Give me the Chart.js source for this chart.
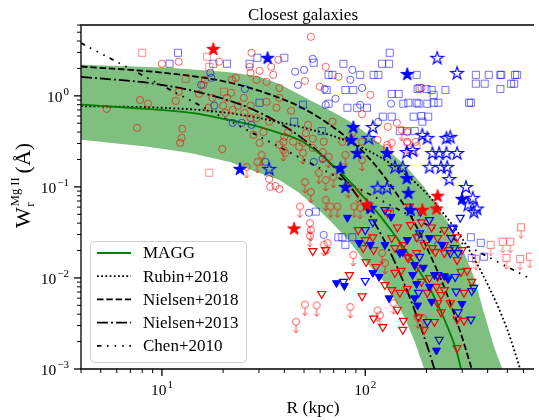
<!DOCTYPE html>
<html><head><meta charset="utf-8">
<script src="https://cdn.jsdelivr.net/npm/chart.js@4.4.1/dist/chart.umd.min.js"></script>
<style>html,body{margin:0;padding:0;background:#fff}canvas{display:block}</style>
</head><body>
<canvas id="c" width="539" height="420"></canvas>
<script>
// ---------- axis ticks ----------
const xMajorTicks = [10, 100];
const xTickLabels = [['10', '1'], ['10', '2']];
const xMinorTicks = [4, 5, 6, 7, 8, 9, 20, 30, 40, 50, 60, 70, 80, 90, 200, 300, 400, 500, 600];
const yMajorTicks = [0.001, 0.01, 0.1, 1];
const yTickLabels = [['10', '\u22123'], ['10', '\u22122'], ['10', '\u22121'], ['10', '0']];
const yMinorTicks = [0.002, 0.003, 0.004, 0.005, 0.006, 0.007, 0.008, 0.009,
  0.02, 0.03, 0.04, 0.05, 0.06, 0.07, 0.08, 0.09,
  0.2, 0.3, 0.4, 0.5, 0.6, 0.7, 0.8, 0.9, 2, 3, 4, 5, 6];
const legendLabels = ['MAGG', 'Rubin+2018', 'Nielsen+2018', 'Nielsen+2013', 'Chen+2010'];

// ---------- model curves (R in kpc, W in Angstrom) ----------
const maggR = [4, 6.9, 14, 21.2, 28.6, 37.8, 47.2, 59.1, 69, 82.7, 96.7, 112, 136, 156, 175, 207, 245, 283, 296];
const maggW = [0.80, 0.74, 0.65, 0.545, 0.47, 0.39, 0.329, 0.236, 0.175, 0.119, 0.080, 0.056, 0.032, 0.021, 0.0142, 0.0078, 0.0035, 0.0015, 0.001];
const maggUpR = [4, 10.8, 20.9, 29.5, 37.8, 55.4, 73.9, 89.3, 108, 125, 156, 195, 251, 296, 342, 383, 428, 472];
const maggUpW = [2.19, 2.03, 1.83, 1.65, 1.35, 0.86, 0.618, 0.48, 0.346, 0.27, 0.175, 0.100, 0.043, 0.023, 0.0103, 0.0042, 0.0018, 0.001];
const maggLoR = [4, 8.55, 13.8, 21.6, 29.2, 37.8, 47.2, 57.1, 69.0, 82.7, 96.7, 125, 156, 175, 195];
const maggLoW = [0.329, 0.276, 0.236, 0.188, 0.146, 0.119, 0.086, 0.060, 0.040, 0.026, 0.0166, 0.0088, 0.0037, 0.0020, 0.001];
const rubinR = [4, 10, 20, 40, 70, 100, 150, 200, 250, 300, 400, 500, 578];
const rubinW = [0.77, 0.74, 0.66, 0.50, 0.36, 0.26, 0.15, 0.085, 0.047, 0.027, 0.0085, 0.0027, 0.001];
const nielsen18R = [4, 10, 20, 30, 50, 75, 100, 125, 150, 175, 200, 250, 300, 334];
const nielsen18W = [2.1, 1.8, 1.45, 1.14, 0.72, 0.40, 0.23, 0.127, 0.071, 0.040, 0.022, 0.0070, 0.0022, 0.001];
const nielsen13R = [4, 10, 20, 30, 50, 75, 100, 125, 150, 175, 200, 219];
const nielsen13W = [1.62, 1.32, 0.93, 0.66, 0.33, 0.14, 0.059, 0.025, 0.0105, 0.0044, 0.0019, 0.001];
const chenR = [4, 10, 30, 100, 300, 660];
const chenW = [3.8, 1.3, 0.36, 0.088, 0.024, 0.0096];

// ---------- galaxies [R (kpc), W (A)] ----------
const redCircles = [[10,2.25],[12.1,2.37],[19.1,2.37],[27.6,2.97],[27.0,2.08],[27.3,1.79],[22.1,1.50],[23.1,1.58],[16.3,1.50],[16.0,1.32],[12.1,1.11],[15.2,1.05],[17.7,0.95],[21.9,1.08],[20.9,0.95],[25.3,0.95],[7.8,0.90],[8.55,0.82],[11.7,0.88],[20.0,0.78],[23.7,0.78],[27.3,0.78],[22.3,0.70],[20.5,0.65],[25.5,0.65],[27.3,0.57],[5.35,0.72],[7.55,0.445],[12.6,0.434],[12.5,0.346],[12.3,0.305],[16.9,0.74],[28.2,0.373],[19.8,0.26],[54.0,4.45],[30.2,1.88],[37.4,2.49],[63.9,2.08],[73.8,1.62],[50.5,1.46],[59.7,1.26],[106,1.025],[96.5,0.63],[129,0.456],[143,0.505],[161,0.40],[34.5,2.08],[35.3,1.70],[29.2,1.50],[32.7,1.43],[37.8,1.22],[32.7,0.86],[37.8,0.95],[36.6,0.74],[43.2,0.685],[29.2,0.57],[33.7,0.52],[41.8,0.40],[52.3,0.48],[69.0,0.52],[189,1.22],[161,0.313],[177,0.313],[33.7,0.122],[34.1,0.100],[36.2,0.1025],[37.8,0.095],[30.2,0.305],[31.6,0.40],[40.0,0.355],[44.2,0.313],[49.4,0.305],[55.2,0.268],[51.1,0.39],[37.8,0.29],[47.3,0.276],[55.2,0.337],[62.5,0.313],[77.2,0.313],[40.4,0.236],[86.4,0.39],[96.5,0.313],[39.6,0.313],[115,0.329],[128,0.268]];
const redLimitCircles = [[26.1,0.166],[29.5,0.188],[30.9,0.225],[39.6,0.255],[49.4,0.236],[61.8,0.242],[66.0,0.214],[79.9,0.225],[96.5,0.198],[128,0.29],[135,0.305],[151,0.423],[161,0.305],[179,0.283],[59.1,0.143],[63.9,0.119],[69.8,0.129],[82.6,0.100],[50.5,0.113],[54.0,0.088],[92.3,0.088],[47.8,0.061],[63.9,0.072],[67.5,0.061],[73.0,0.061],[88.3,0.061],[94.4,0.059],[53.4,0.040],[54.0,0.0337],[53.4,0.029],[62.5,0.0231],[65.3,0.0243],[87.3,0.0179],[121,0.0188],[125,0.0146],[50.5,0.0051],[57.7,0.0050],[84.5,0.0048],[45.7,0.0033],[115,0.0044],[118,0.0039],[138,0.0053],[181,0.0037],[193,0.0036]];
const redTriangles = [[55.2,0.0198],[63.9,0.0203],[83.6,0.0108],[61.1,0.0067],[96.5,0.0063],[110,0.0036],[122,0.0029],[153,0.0027],[154,0.0034],[113,0.0132],[101,0.015],[125,0.0084],[135,0.0074],[148,0.0069],[144,0.0045],[161,0.0076],[140,0.0114],[163,0.0166],[179,0.013],[189,0.0091],[202,0.0069],[224,0.0080],[236,0.0065],[245,0.0074],[227,0.0053],[236,0.0042],[219,0.0033],[195,0.0027],[183,0.0037],[207,0.0100],[227,0.0103],[253,0.0100],[296,0.0117],[317,0.012],[334,0.0091],[306,0.0069],[283,0.0035],[306,0.0034],[283,0.0017],[262,0.0053],[259,0.0203],[299,0.0203],[283,0.0158],[221,0.0193],[179,0.0188],[161,0.0171],[150,0.012],[245,0.0188],[92.3,0.0337],[100,0.0262],[97.7,0.0214],[110,0.0203],[109,0.028],[129,0.052],[135,0.0275],[140,0.0214],[144,0.036],[153,0.0231],[167,0.0382],[179,0.028],[189,0.041],[195,0.0231],[212,0.036],[214,0.0214],[227,0.0275],[245,0.0337],[245,0.0231],[283,0.028],[165,0.061]];
const blueFilledTriangles = [[72.2,0.0088],[79.0,0.0082],[109,0.0114],[117,0.0103],[131,0.0060],[175,0.0139],[193,0.013],[171,0.0108],[179,0.0086],[175,0.0060],[181,0.0050],[212,0.0055],[207,0.0080],[219,0.0108],[245,0.0105],[256,0.0098],[299,0.0052],[224,0.0016],[153,0.0193],[81.7,0.046],[134,0.047],[161,0.0262],[207,0.0275],[239,0.0231],[125,0.0231],[106,0.0231],[148,0.0188],[93.3,0.0243]];
const blueOpenTriangles = [[78.1,0.0091],[100,0.0093],[183,0.0069],[227,0.0108],[277,0.0103],[280,0.0071],[334,0.0072],[342,0.0078],[331,0.0035],[286,0.0042],[231,0.0021],[202,0.0033],[185,0.0171],[286,0.0188],[293,0.046],[268,0.036],[100,0.0337],[109,0.041],[125,0.056],[187,0.0535],[207,0.0434],[271,0.035],[185,0.031],[265,0.0275],[274,0.0214],[262,0.0188]];
const blueFilledStars = [[33.1,2.62],[161,1.74],[24.2,0.158],[87.4,0.456],[85.4,0.329],[91.3,0.236],[128,0.236],[75.5,0.162],[79.9,0.100],[160,0.125],[163,0.086],[167,0.056],[299,0.074],[106,0.059]];
const blueOpenStars = [[226,2.62],[283,1.79],[109,0.456],[104,0.346],[33.7,0.158],[191,0.373],[202,0.346],[251,0.346],[262,0.355],[214,0.236],[231,0.236],[251,0.236],[283,0.236],[207,0.166],[236,0.166],[253,0.166],[259,0.122],[313,0.100],[338,0.076],[320,0.064],[354,0.058],[342,0.0535],[160,0.242],[171,0.255],[140,0.166],[153,0.166],[115,0.098],[128,0.098]];
const redStars = [[17.9,3.28],[44.7,0.035],[102,0.064],[191,0.056],[224,0.058],[227,0.080]];
const blueSquares = [[12.0,2.97],[10.9,2.25],[17.9,2.25],[20.9,2.25],[27.0,2.25],[29.5,2.62],[40.0,2.62],[55.8,2.31],[78.1,2.25],[121,2.25],[131,2.25],[132,2.97],[66.0,1.70],[69.0,1.70],[94.4,1.70],[110,1.70],[116,1.70],[79.9,1.16],[87.3,1.16],[64.6,1.16],[135,1.05],[146,1.05],[163,0.84],[179,0.84],[185,1.22],[81.7,0.74],[91.3,0.74],[102,0.74],[122,0.59],[135,0.59],[160,0.41],[175,0.41],[30.2,0.84],[44.7,0.52],[61.1,0.41],[49.4,0.80],[66.0,0.82],[179,1.70],[350,1.70],[405,1.70],[462,1.70],[467,1.70],[546,1.70],[558,1.70],[350,1.36],[387,1.36],[462,1.19],[522,1.36],[540,1.36],[181,1.19],[200,1.19],[212,1.16],[248,1.16],[217,1.025],[154,0.82],[183,0.82],[202,0.82],[217,0.84],[229,0.84],[324,0.84],[331,0.84],[173,0.59],[189,0.60],[204,0.59],[191,0.52],[148,0.41],[57.1,0.0535],[73.8,0.028],[77.2,0.028],[79.9,0.0231],[86.4,0.028],[132,0.0535],[331,0.028],[370,0.0243],[334,0.0166],[383,0.0171],[229,0.0226],[183,0.028]];
const redSquares = [[8.0,2.97],[16.7,2.69],[17.1,2.08],[13.1,1.54],[20.2,1.11],[17.1,0.143]];
const redLimitSquares = [[584,0.036],[517,0.025],[474,0.025],[414,0.0231],[350,0.0162],[495,0.0166],[578,0.0162],[646,0.0171]];
const blueCircles = [[15.6,1.32],[17.5,1.58],[17.3,1.79],[18.1,0.78],[25.6,1.19],[22.3,0.505],[24.7,0.505],[27.6,0.48],[55.2,2.55],[45.2,1.84],[50.0,1.93],[46.7,1.32],[63.2,1.19],[86.4,1.93],[84.5,1.50],[96.5,1.22],[71.4,0.93],[63.9,0.796],[94.4,0.796],[116,0.518],[134,0.82],[55.8,0.188],[61.8,0.203],[32.3,0.188],[62.5,0.0297],[52.9,0.052]];

// ---------- helpers ----------
const SERIF = '"Liberation Serif", "Times New Roman", serif';
const toXY = a => a.map(p => ({x: p[0], y: p[1]}));
const curve = (R, W) => R.map((r, i) => ({x: r, y: W[i]}));

function makeStar(fill, stroke, R, lw) {
  const s = Math.ceil(2 * R + 2 * lw + 2);
  const c = document.createElement('canvas'); c.width = s; c.height = s;
  const g = c.getContext('2d'); const cx = s / 2, cy = s / 2 + R * 0.08;
  g.beginPath();
  for (let i = 0; i < 10; i++) {
    const a = -Math.PI / 2 + i * Math.PI / 5;
    const r = i % 2 ? R * 0.382 : R;
    const px = cx + r * Math.cos(a), py = cy + r * Math.sin(a);
    if (i) g.lineTo(px, py); else g.moveTo(px, py);
  }
  g.closePath();
  if (fill) { g.fillStyle = fill; g.fill(); }
  g.lineJoin = 'miter'; g.lineWidth = lw; g.strokeStyle = stroke; g.stroke();
  return c;
}
function makeLimit(shape, color, r, lw) {
  const w = 14, h = 32; const cx = 7, cy = 16;
  const c = document.createElement('canvas'); c.width = w; c.height = h;
  const g = c.getContext('2d'); g.strokeStyle = color; g.lineWidth = lw;
  g.beginPath();
  if (shape === 'circle') g.arc(cx, cy, r, 0, 2 * Math.PI); else g.rect(cx - r, cy - r, 2 * r, 2 * r);
  g.moveTo(cx, cy + r); g.lineTo(cx, cy + r + 7.5);
  g.moveTo(cx - 2.6, cy + r + 4.6); g.lineTo(cx, cy + r + 7.5); g.lineTo(cx + 2.6, cy + r + 4.6);
  g.stroke();
  return c;
}
const starBlueFilled = makeStar('#0000ff', '#0000ff', 6.8, 1);
const starRedFilled = makeStar('#ff0000', '#ff0000', 6.8, 1);
const starBlueOpen = makeStar(null, '#0000ff', 6.6, 1.2);
const limCircle = makeLimit('circle', 'rgba(255,0,0,0.65)', 3.5, 1);
const limSquare = makeLimit('square', 'rgba(255,0,0,0.5)', 3.5, 1);

function pts(data, style, o) {
  return {type: 'scatter', data: toXY(data), pointStyle: style, pointRadius: o.r,
    pointBorderColor: o.stroke, pointBackgroundColor: o.fill || 'rgba(0,0,0,0)',
    pointBorderWidth: o.lw || 1, pointRotation: o.rot || 0, order: o.order, clip: 0};
}
function line(R, W, color, dash, order) {
  return {type: 'line', data: curve(R, W), borderColor: color, borderWidth: 1.8, borderDash: dash,
    pointRadius: 0, fill: false, cubicInterpolationMode: 'monotone', order: order, clip: 0};
}
const bandPts = curve(maggUpR, maggUpW).concat(curve(maggLoR, maggLoW).reverse());

const dashes = {
  rubin: [1.8, 2.4], n18: [6.5, 2.8], n13: [11, 3, 2, 3], chen: [4.5, 5.5, 1.6, 6, 1.6, 6, 1.6, 5.5]
};

const decoPlugin = {
  id: 'deco',
  afterDraw(chart) {
    const ctx = chart.ctx, xs = chart.scales.x, ys = chart.scales.y, a = chart.chartArea;
    ctx.save();
    ctx.strokeStyle = '#000'; ctx.fillStyle = '#000'; ctx.setLineDash([]);
    // spines
    ctx.lineWidth = 1.3;
    ctx.beginPath();
    ctx.moveTo(a.right + 2, a.top); ctx.lineTo(a.left, a.top); ctx.lineTo(a.left, a.bottom); ctx.lineTo(a.right + 2, a.bottom);
    ctx.stroke();
    // ticks
    const tx = (v, len, w) => { const p = xs.getPixelForValue(v); ctx.lineWidth = w; ctx.beginPath(); ctx.moveTo(p, a.bottom); ctx.lineTo(p, a.bottom + len); ctx.stroke(); };
    const ty = (v, len, w) => { const p = ys.getPixelForValue(v); ctx.lineWidth = w; ctx.beginPath(); ctx.moveTo(a.left, p); ctx.lineTo(a.left - len, p); ctx.stroke(); };
    xMinorTicks.forEach(v => tx(v, 4, 1)); xMajorTicks.forEach(v => tx(v, 7, 1.3));
    yMinorTicks.forEach(v => ty(v, 4, 1)); yMajorTicks.forEach(v => ty(v, 7, 1.3));
    // tick labels
    const bf = '15.5px ' + SERIF, ef = '11px ' + SERIF;
    const pow = (lab, x, y, align) => {
      ctx.font = bf; const wb = ctx.measureText(lab[0]).width;
      ctx.font = ef; const we = ctx.measureText(lab[1]).width;
      let x0 = align === 'right' ? x - wb - we - 1 : x - (wb + we + 1) / 2;
      ctx.textAlign = 'left'; ctx.textBaseline = 'alphabetic';
      ctx.font = bf; ctx.fillText(lab[0], x0, y);
      ctx.font = ef; ctx.fillText(lab[1], x0 + wb + 1, y - 7);
    };
    xMajorTicks.forEach((v, i) => pow(xTickLabels[i], xs.getPixelForValue(v), 395, 'center'));
    yMajorTicks.forEach((v, i) => pow(yTickLabels[i], 69, ys.getPixelForValue(v) + 6, 'right'));
    // title and axis labels
    ctx.textAlign = 'center'; ctx.textBaseline = 'alphabetic';
    ctx.font = '17px ' + SERIF; ctx.fillText('Closest galaxies', 303, 20);
    ctx.font = '17.5px ' + SERIF; ctx.fillText('R (kpc)', 313, 413);
    // y label
    ctx.save(); ctx.translate(30, 228); ctx.rotate(-Math.PI / 2); ctx.textAlign = 'left';
    ctx.font = '22px ' + SERIF; let u = 0; ctx.fillText('W', u, 0); u += ctx.measureText('W').width;
    ctx.font = '13px ' + SERIF; const ws = ctx.measureText('r').width; ctx.fillText('r', u + 0.5, 4);
    ctx.font = '12.5px ' + SERIF; const wm = ctx.measureText('Mg II').width; ctx.fillText('Mg II', u + 1, -11);
    u += Math.max(ws, wm) + 5;
    ctx.font = '22px ' + SERIF; ctx.fillText('(\u00C5)', u, 0);
    ctx.restore();
    // legend
    const lx = 90.5, ly = 241.5, lw = 156, lh = 121;
    ctx.beginPath(); ctx.roundRect(lx, ly, lw, lh, 4);
    ctx.fillStyle = 'rgba(255,255,255,0.85)'; ctx.fill();
    ctx.strokeStyle = '#cfcfcf'; ctx.lineWidth = 1; ctx.stroke();
    const styles = [['green', []], ['#000', dashes.rubin], ['#000', dashes.n18], ['#000', dashes.n13], ['#000', dashes.chen]];
    ctx.font = '17px ' + SERIF; ctx.textAlign = 'left'; ctx.textBaseline = 'middle';
    legendLabels.forEach((t, i) => {
      const y = 253 + i * 23.2;
      ctx.strokeStyle = styles[i][0]; ctx.setLineDash(styles[i][1]); ctx.lineWidth = 1.8;
      ctx.beginPath(); ctx.moveTo(97, y); ctx.lineTo(131, y); ctx.stroke();
      ctx.setLineDash([]); ctx.fillStyle = '#000'; ctx.fillText(t, 143, y + 1);
    });
    ctx.restore();
  }
};

new Chart(document.getElementById('c'), {
  type: 'scatter',
  data: {
    datasets: [
      {type: 'line', data: bandPts, fill: 'shape', backgroundColor: 'rgba(0,128,0,0.5)', borderWidth: 0,
        borderColor: 'rgba(0,0,0,0)', pointRadius: 0, tension: 0, order: 100, clip: 0},
      line(maggR, maggW, 'green', [], 50),
      line(rubinR, rubinW, '#000', dashes.rubin, 50),
      line(nielsen18R, nielsen18W, '#000', dashes.n18, 50),
      line(nielsen13R, nielsen13W, '#000', dashes.n13, 50),
      line(chenR, chenW, '#000', dashes.chen, 50),
      pts(blueSquares, 'rect', {r: 5, stroke: 'rgba(0,0,255,0.55)', order: 20}),
      pts(redSquares, 'rect', {r: 5, stroke: 'rgba(255,0,0,0.45)', order: 19}),
      pts(redLimitSquares, limSquare, {r: 5, stroke: 'red', order: 18}),
      pts(blueCircles, 'circle', {r: 3.6, stroke: 'rgba(0,0,255,0.6)', order: 17}),
      pts(redCircles, 'circle', {r: 3.6, stroke: 'rgba(255,0,0,0.6)', order: 16}),
      pts(redLimitCircles, limCircle, {r: 5, stroke: 'red', order: 15}),
      pts(redTriangles, 'triangle', {r: 4.6, stroke: '#ff0000', lw: 1.2, rot: 180, order: 14}),
      pts(blueOpenTriangles, 'triangle', {r: 4.6, stroke: '#0000ff', lw: 1.2, rot: 180, order: 13}),
      pts(blueFilledTriangles, 'triangle', {r: 4.6, stroke: '#0000ff', fill: '#0000ff', lw: 1, rot: 180, order: 12}),
      pts(blueOpenStars, starBlueOpen, {r: 6, stroke: 'blue', order: 11}),
      pts(blueFilledStars, starBlueFilled, {r: 6, stroke: 'blue', order: 10}),
      pts(redStars, starRedFilled, {r: 6, stroke: 'red', order: 9})
    ]
  },
  options: {
    responsive: false, devicePixelRatio: 1, animation: false, events: [],
    layout: {padding: {left: 81, right: 0, top: 25, bottom: 51}},
    plugins: {legend: {display: false}, tooltip: {enabled: false}, title: {display: false}},
    scales: {
      x: {type: 'logarithmic', min: 4, max: 661, display: false},
      y: {type: 'logarithmic', min: 0.001, max: 6, display: false}
    }
  },
  plugins: [decoPlugin]
});
</script>
</body></html>
